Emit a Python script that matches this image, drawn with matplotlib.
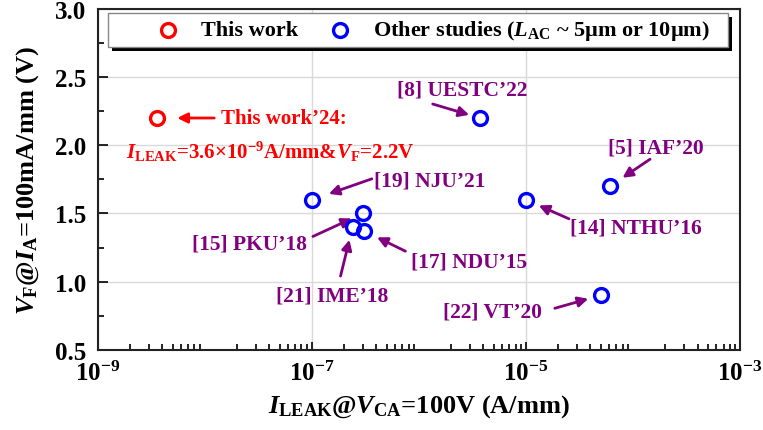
import matplotlib
matplotlib.use("Agg")
import matplotlib.pyplot as plt
from matplotlib.patches import Rectangle
import numpy as np

plt.rcParams["font.family"] = ["Liberation Serif", "DejaVu Serif"]
plt.rcParams["font.weight"] = "bold"
plt.rcParams["axes.labelweight"] = "bold"
plt.rcParams["mathtext.fontset"] = "custom"
plt.rcParams["mathtext.rm"] = "Liberation Serif:bold"
plt.rcParams["mathtext.bf"] = "Liberation Serif:bold"
plt.rcParams["mathtext.it"] = "Liberation Serif:bold:italic"

# Leakage current (A/mm) and forward voltage (V)
leak_this = [3.6e-9]
vf_this = [2.2]

refs = ["[8] UESTC’22", "[5] IAF’20", "[14] NTHU’16", "[19] NJU’21",
        "[15] PKU’18", "[21] IME’18", "[17] NDU’15", "[22] VT’20"]
leak_other = [3.7e-6, 6.1e-5, 1.0e-5, 1.0e-7, 3.0e-7, 2.4e-7, 3.1e-7, 5.0e-5]
vf_other = [2.2, 1.7, 1.6, 1.6, 1.5, 1.4, 1.37, 0.9]

x_ticks = [1e-9, 1e-7, 1e-5, 1e-3]
x_tick_labels = [r"$10^{-9}$", r"$10^{-7}$", r"$10^{-5}$", r"$10^{-3}$"]
y_ticks = [0.5, 1.0, 1.5, 2.0, 2.5, 3.0]

# label placement, in pixels relative to each marker: text centre, arrow tail, arrow gap
label_offsets = [(-18, 29), (46, 39), (110, -28), (118, 19),
                 (-113, -30), (-20, -68), (105, -30), (-108, -16)]
arrow_tails = [(-47, 14), (40, 27), (43, -19), (60, 21),
               (-50, -23), (-12, -49), (41, -20), (-46, -13)]
arrow_gaps = [11, 15, 14, 18, 12, 13, 14, 13]

RED = "#ff0000"
BLUE = "#0000ff"
PURPLE = "#800080"

fig = plt.figure(figsize=(7.63, 4.31), dpi=100)
ax = fig.add_axes([0.128, 0.186, 0.842, 0.791])

ax.set_xscale("log")
ax.set_xlim(1e-9, 1e-3)
ax.set_ylim(0.5, 3.0)
ax.grid(True, which="major", color="#d9d9d9", lw=1.0)
ax.set_axisbelow(True)

ax.plot(leak_this, vf_this, "o", ms=10, mfc="none", mec=RED, mew=2.4, zorder=5)
ax.plot(leak_other, vf_other, "o", ms=10, mfc="none", mec=BLUE, mew=2.4, zorder=5)

arrow_kw = dict(arrowstyle="-|>,head_length=0.6,head_width=0.3", lw=2.0, shrinkA=0)

for name, x, y, off, tail, gap in zip(refs, leak_other, vf_other,
                                       label_offsets, arrow_tails, arrow_gaps):
    ax.annotate(name, xy=(x, y), xytext=off, textcoords="offset pixels",
                ha="center", va="center", fontsize=15.5, color=PURPLE)
    ax.annotate("", xy=(x, y), xytext=tail, textcoords="offset pixels",
                arrowprops=dict(color=PURPLE, shrinkB=gap * 0.72, **arrow_kw))

# this work callout
x0, y0 = leak_this[0], vf_this[0]
ax.annotate("", xy=(x0, y0), xytext=(57, 0), textcoords="offset pixels",
            arrowprops=dict(color=RED, shrinkB=20 * 0.72, **arrow_kw))
ax.annotate("This work’24:", xy=(x0, y0), xytext=(64, 0), textcoords="offset pixels",
            ha="left", va="center", fontsize=15, color=RED)
ax.annotate(r"$I_{\rm LEAK}$=3.6×$10^{-9}$A/mm&$V_{\rm F}$=$2.2$V", xy=(x0, y0),
            xytext=(-31, -33), textcoords="offset pixels",
            ha="left", va="center", fontsize=15, color=RED)

ax.set_xticks(x_ticks)
ax.set_xticklabels(x_tick_labels)
ax.set_yticks(y_ticks)
ax.set_yticklabels([f"{v:.1f}" for v in y_ticks])
ax.yaxis.set_minor_locator(matplotlib.ticker.MultipleLocator(0.25))
ax.tick_params(axis="both", which="both", direction="in", top=False, right=False,
               labelsize=18)
ax.tick_params(axis="x", which="major", length=6, width=1.2, pad=8)
ax.tick_params(axis="x", which="minor", length=4, width=1.2)
ax.tick_params(axis="y", which="major", length=7, width=1.2, pad=8)
ax.tick_params(axis="y", which="minor", length=4, width=1.2)

for s in ax.spines.values():
    s.set_linewidth(1.5)
    s.set_color("#222222")

ax.set_xlabel(r"$I_{\rm LEAK}$@$V_{\rm CA}$=100V (A/mm)", fontsize=19, labelpad=5)
ax.set_ylabel(r"$V_{\rm F}$@$I_{\rm A}$=100mA/mm (V)", fontsize=19, labelpad=10)

# legend box with a hard black shadow
lx, ly, lw_, lh = 0.0156, 0.889, 0.966, 0.099
ax.add_patch(Rectangle((lx + 0.0062, ly - 0.0117), lw_, lh, transform=ax.transAxes,
                       facecolor="black", edgecolor="none", zorder=8, clip_on=False))
ax.add_patch(Rectangle((lx, ly), lw_, lh, transform=ax.transAxes,
                       facecolor="white", edgecolor="#888888", lw=1.0, zorder=9,
                       clip_on=False))
ly_c = ly + lh / 2
ax.plot([0.110], [ly_c], "o", ms=10, mfc="none", mec=RED, mew=2.4,
        transform=ax.transAxes, zorder=10, clip_on=False)
ax.text(0.161, ly_c, "This work", transform=ax.transAxes, ha="left", va="center",
        fontsize=16, zorder=10)
ax.plot([0.377], [ly_c], "o", ms=10, mfc="none", mec=BLUE, mew=2.4,
        transform=ax.transAxes, zorder=10, clip_on=False)
ax.text(0.428, ly_c, r"Other studies ($L_{\rm AC}$ ~ 5µm or 10µm)", transform=ax.transAxes,
        ha="left", va="center", fontsize=16, zorder=10)

fig.savefig("out.png", dpi=100)
